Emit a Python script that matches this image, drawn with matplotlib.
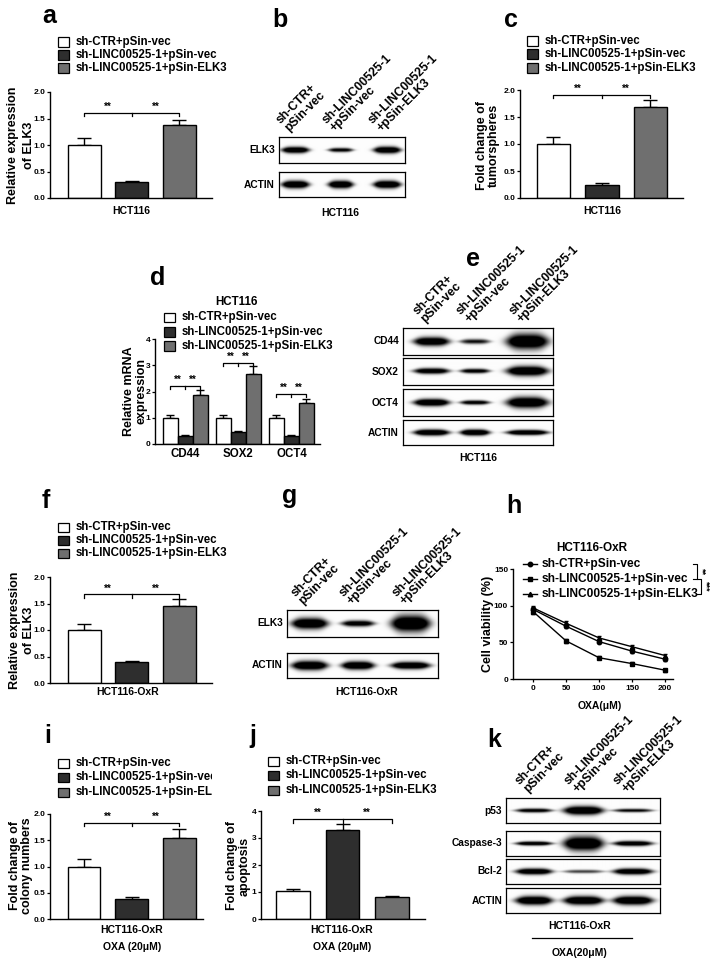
import numpy as np
import matplotlib
matplotlib.use('Agg')
import matplotlib.pyplot as plt
from matplotlib.patches import Rectangle
from matplotlib.lines import Line2D
from matplotlib.transforms import Bbox, TransformedBbox

plt.rcParams['font.family'] = ['Liberation Sans', 'DejaVu Sans']
plt.rcParams['font.weight'] = 'bold'
plt.rcParams['axes.linewidth'] = 1.0

# ---------------- data ----------------
groups = ['sh-CTR+pSin-vec', 'sh-LINC00525-1+pSin-vec', 'sh-LINC00525-1+pSin-ELK3']
lane_labels = ['sh-CTR+\npSin-vec', 'sh-LINC00525-1\n+pSin-vec', 'sh-LINC00525-1\n+pSin-ELK3']
bar_colors = ['white', '#2e2e2e', '#6f6f6f']

a_vals = [1.00, 0.30, 1.38]; a_err = [0.14, 0.02, 0.10]
c_vals = [1.00, 0.25, 1.68]; c_err = [0.13, 0.02, 0.14]
f_vals = [1.00, 0.39, 1.45]; f_err = [0.12, 0.02, 0.13]
i_vals = [1.00, 0.38, 1.55]; i_err = [0.15, 0.03, 0.17]
j_vals = [1.02, 3.28, 0.80]; j_err = [0.10, 0.25, 0.05]

d_genes = ['CD44', 'SOX2', 'OCT4']
d_ctr = [1.00, 1.00, 1.00]; d_ctr_err = [0.10, 0.10, 0.10]
d_kd = [0.30, 0.45, 0.32]; d_kd_err = [0.03, 0.03, 0.03]
d_elk = [1.88, 2.68, 1.55]; d_elk_err = [0.18, 0.30, 0.15]
d_sig_y = [2.2, 3.1, 1.9]

h_dose = [0, 50, 100, 150, 200]
h_ctr = [95, 72, 51, 38, 27]
h_kd = [92, 52, 29, 21, 12]
h_elk = [97, 76, 56, 44, 32]
h_err = [3, 3, 2, 2, 2]

# western blot band intensities / thickness / half-width per row (lanes: CTR, KD, KD+ELK3)
b_rows = ['ELK3', 'ACTIN']
b_int = [[0.95, 0.75, 0.95], [1.0, 1.0, 1.0]]
b_thk = [[0.12, 0.08, 0.13], [0.15, 0.15, 0.15]]
b_hw = [0.11, 0.10, 0.11]
e_rows = ['CD44', 'SOX2', 'OCT4', 'ACTIN']
e_int = [[0.95, 0.65, 1.0], [0.9, 0.8, 1.0], [1.0, 0.8, 1.0], [1.0, 1.0, 1.0]]
e_thk = [[0.16, 0.09, 0.28], [0.10, 0.08, 0.17], [0.13, 0.08, 0.20], [0.12, 0.12, 0.10]]
e_hw = [0.12, 0.10, 0.14]
g_rows = ['ELK3', 'ACTIN']
g_int = [[1.0, 0.85, 1.0], [1.0, 1.0, 1.0]]
g_thk = [[0.20, 0.11, 0.30], [0.18, 0.16, 0.14]]
g_hw = [0.12, 0.11, 0.13]
k_rows = ['p53', 'Caspase-3', 'Bcl-2', 'ACTIN']
k_int = [[0.8, 1.0, 0.7], [0.9, 1.0, 0.9], [0.95, 0.5, 0.95], [1.0, 1.0, 1.0]]
k_thk = [[0.08, 0.17, 0.07], [0.08, 0.28, 0.10], [0.12, 0.07, 0.12], [0.17, 0.17, 0.17]]
k_hw = [0.12, 0.13, 0.13]

# ---------------- layout helpers ----------------
W, H = 717, 968
fig = plt.figure(figsize=(W / 100, H / 100), dpi=100)


def px_ax(x0, y0, x1, y1):
    return fig.add_axes([x0 / W, 1 - y1 / H, (x1 - x0) / W, (y1 - y0) / H])


def ftext(x, y, s, **kw):
    kw.setdefault('fontweight', 'bold')
    return fig.text(x / W, 1 - y / H, s, **kw)


def frect(x, y, w, h, fc):
    fig.add_artist(Rectangle((x / W, 1 - (y + h) / H), w / W, h / H,
                             transform=fig.transFigure, fc=fc, ec='black', lw=0.9))


def letter(x, y, s):
    ftext(x, y, s, fontsize=18, ha='left', va='baseline')


def ylab(x, y, s, ls=1.05, fs=9):
    ftext(x, y, s, rotation=90, ha='center', va='center', fontsize=fs,
          multialignment='center', linespacing=ls)


def bar_legend(x, ys, fs=8.3, clip_x=None):
    for k, (g, c) in enumerate(zip(groups, bar_colors)):
        frect(x, ys[k] - 4.5, 11, 9, c)
        t = ftext(x + 18, ys[k], g, fontsize=fs, va='center', ha='left')
        if clip_x is not None:
            t.set_clip_box(TransformedBbox(Bbox([[0, 0], [clip_x / W, 1]]), fig.transFigure))
            t.set_clip_on(True)


def style_axis(ax, fs=6):
    ax.spines['top'].set_visible(False)
    ax.spines['right'].set_visible(False)
    ax.tick_params(axis='y', length=2.5, width=0.9, labelsize=fs, pad=1)
    for lab in ax.get_yticklabels():
        lab.set_fontweight('bold')


def bracket(ax, x0, xm, x1, y, d, fs=7):
    ax.plot([x0, x0, x1, x1], [y - d, y, y, y - d], color='k', lw=0.9, clip_on=False)
    ax.plot([xm, xm], [y, y - d], color='k', lw=0.9, clip_on=False)
    for xc in [(x0 + xm) / 2, (xm + x1) / 2]:
        ax.text(xc, y + d * 0.3, '**', ha='center', va='bottom', fontsize=fs, fontweight='bold')


def bar_panel(box, vals, errs, xlim, ylim, yticks, fmt, sig_y, sig_d):
    ax = px_ax(*box)
    x = np.arange(len(vals))
    ax.errorbar(x, vals, yerr=[np.zeros(len(vals)), errs], fmt='none', ecolor='black',
                elinewidth=1.0, capsize=5, capthick=1.0, zorder=1)
    ax.bar(x, vals, width=0.69, color=bar_colors, edgecolor='black', linewidth=1.0, zorder=2)
    ax.set_xlim(*xlim)
    ax.set_ylim(*ylim)
    ax.set_yticks(yticks)
    ax.set_yticklabels([fmt % v for v in yticks])
    ax.set_xticks([])
    style_axis(ax)
    bracket(ax, 0, 1, 2, sig_y, sig_d)
    return ax


def band_image(nx, ny, lanes, intens, thick, halfw):
    xx = np.linspace(0, 1, nx)[None, :]
    yy = np.linspace(0, 1, ny)[:, None]
    dark = np.zeros((ny, nx))
    for cx, I, t, hw in zip(lanes, intens, thick, halfw):
        px = np.exp(-np.abs((xx - cx) / hw) ** 4)
        tt = t * (0.5 + 0.5 * px)
        py = np.exp(-((yy - 0.5) / np.maximum(tt, 1e-3)) ** 2)
        dark += I * px * py * 1.5
    return 0.99 - 0.99 * np.clip(dark, 0, 1)


def blot_panel(x0, x1, row_boxes, row_names, lanes, intens, thick, halfw,
               label_fs=7.3, hdr_fs=8.8, gap=4, hdr_dx=-4):
    for (y0, y1), name, I, T in zip(row_boxes, row_names, intens, thick):
        ax = px_ax(x0, y0, x1, y1)
        img = band_image(int((x1 - x0) * 3), int((y1 - y0) * 3), lanes, I, T, halfw)
        ax.imshow(img, cmap='gray', vmin=0, vmax=1, aspect='auto',
                  extent=[0, 1, 0, 1], interpolation='bilinear')
        ax.set_xticks([]); ax.set_yticks([])
        for s in ax.spines.values():
            s.set_linewidth(0.9)
        ftext(x0 - gap, (y0 + y1) / 2, name, ha='right', va='center', fontsize=label_fs)
    top = row_boxes[0][0]
    for fr, lab in zip(lanes, lane_labels):
        lx = x0 + fr * (x1 - x0)
        ftext(lx + hdr_dx, top - 3, lab, rotation=45, rotation_mode='anchor', ha='left',
              va='bottom', multialignment='left', fontsize=hdr_fs, linespacing=0.95)


# ---------------- panel a ----------------
letter(42, 23, 'a')
bar_legend(58, [42, 55, 68])
bar_panel((50, 92, 212, 198), a_vals, a_err, (-0.716, 2.684), (0, 2.0),
          [0, 0.5, 1.0, 1.5, 2.0], '%.1f', 1.6, 0.06)
ylab(21, 145, 'Relative expression\nof ELK3', ls=1.5)
ftext(131, 211, 'HCT116', ha='center', va='center', fontsize=7.5)

# ---------------- panel b ----------------
letter(272, 27, 'b')
blot_panel(279, 405, [(137, 163), (172, 197)], b_rows, [0.13, 0.49, 0.86], b_int, b_thk, b_hw)
ftext(340, 213, 'HCT116', ha='center', va='center', fontsize=7.5)

# ---------------- panel c ----------------
letter(504, 27, 'c')
bar_legend(527, [41, 54, 68])
bar_panel((520, 90, 683, 198), c_vals, c_err, (-0.69, 2.67), (0, 2.0),
          [0, 0.5, 1.0, 1.5, 2.0], '%.1f', 1.91, 0.06)
ylab(488, 145, 'Fold change of\ntumorspheres', ls=1.05)
ftext(602, 211, 'HCT116', ha='center', va='center', fontsize=7.5)

# ---------------- panel d ----------------
letter(150, 285, 'd')
ftext(236, 302, 'HCT116', ha='center', va='center', fontsize=8.3)
bar_legend(164, [317, 332, 346])
axd = px_ax(155, 339, 320, 444)
xg = np.arange(len(d_genes))
off = 0.283
for k, (vals, errs) in enumerate([(d_ctr, d_ctr_err), (d_kd, d_kd_err), (d_elk, d_elk_err)]):
    xs = xg + (k - 1) * off
    axd.errorbar(xs, vals, yerr=[np.zeros(3), errs], fmt='none', ecolor='black',
                 elinewidth=1.0, capsize=3, capthick=1.0, zorder=1)
    axd.bar(xs, vals, width=off, color=bar_colors[k], edgecolor='black', linewidth=1.0, zorder=2)
axd.set_xlim(-0.575, 2.54)
axd.set_ylim(0, 4)
axd.set_yticks([0, 1, 2, 3, 4])
axd.set_xticks(xg)
axd.set_xticklabels(d_genes, fontsize=8.3, fontweight='bold')
axd.tick_params(axis='x', length=0, pad=3)
style_axis(axd)
for gx, sy in zip(xg, d_sig_y):
    bracket(axd, gx - off, gx, gx + off, sy, 0.12, fs=7)
ylab(135, 391, 'Relative mRNA\nexpression', ls=1.05)

# ---------------- panel e ----------------
letter(466, 266, 'e')
blot_panel(403, 553, [(328, 355), (358, 385), (389, 416), (420, 445)], e_rows,
           [0.19, 0.48, 0.83], e_int, e_thk, e_hw)
ftext(478, 458, 'HCT116', ha='center', va='center', fontsize=7.5)

# ---------------- panel f ----------------
letter(42, 508, 'f')
bar_legend(58, [527, 540, 553])
bar_panel((50, 577, 212, 683), f_vals, f_err, (-0.716, 2.684), (0, 2.0),
          [0, 0.5, 1.0, 1.5, 2.0], '%.1f', 1.67, 0.06)
ylab(22, 630, 'Relative expression\nof ELK3', ls=1.2)
ftext(128, 692, 'HCT116-OxR', ha='center', va='center', fontsize=7.5)

# ---------------- panel g ----------------
letter(282, 503, 'g')
blot_panel(287, 438, [(610, 637), (653, 678)], g_rows, [0.15, 0.47, 0.82], g_int, g_thk, g_hw)
ftext(367, 692, 'HCT116-OxR', ha='center', va='center', fontsize=7.5)

# ---------------- panel h ----------------
letter(506, 513, 'h')
axh = px_ax(513, 569, 673, 679)
h_markers = ['o', 's', '^']
for vals, m in zip([h_ctr, h_kd, h_elk], h_markers):
    axh.errorbar(h_dose, vals, yerr=h_err, color='black', lw=1.0, marker=m, markersize=3.2,
                 capsize=1.5, elinewidth=0.8)
axh.set_xlim(-30.3, 212)
axh.set_ylim(0, 150)
axh.set_yticks([0, 50, 100, 150])
axh.set_xticks(h_dose)
axh.tick_params(axis='x', length=2.5, width=0.9, labelsize=6, pad=2)
for lab in axh.get_xticklabels():
    lab.set_fontweight('bold')
style_axis(axh)
ftext(592, 548, 'HCT116-OxR', ha='center', va='center', fontsize=8.5)
hy = [564, 579, 594]
for k, (g, m) in enumerate(zip(groups, h_markers)):
    yy = 1 - hy[k] / H
    fig.add_artist(Line2D([523 / W, 530 / W, 537 / W], [yy, yy, yy], transform=fig.transFigure,
                          color='k', lw=1.0, marker=m, markersize=3.2, markevery=[1]))
    ftext(542, hy[k], g, fontsize=8.6, ha='left', va='center')
for (ya, yb, xb, st) in [(564, 579, 697, '**'), (579, 594, 701, '***')]:
    fig.add_artist(Line2D([(xb - 4) / W, xb / W, xb / W, (xb - 4) / W],
                          [1 - ya / H, 1 - ya / H, 1 - yb / H, 1 - yb / H],
                          transform=fig.transFigure, color='k', lw=0.8))
    ftext(xb + 5, (ya + yb) / 2, st, rotation=-90, ha='center', va='center', fontsize=6.5)
ylab(488, 624, 'Cell viability (%)')
ftext(600, 706, 'OXA(\u03bcM)', ha='center', va='center', fontsize=7.5)

# ---------------- panel i ----------------
letter(44, 743, 'i')
bar_legend(58, [763, 777, 792], clip_x=212)
bar_panel((50, 814, 203, 919), i_vals, i_err, (-0.716, 2.5), (0, 2.0),
          [0, 0.5, 1.0, 1.5, 2.0], '%.1f', 1.83, 0.06)
ylab(21, 866, 'Fold change of\ncolony numbers', ls=1.05)
ftext(132, 930, 'HCT116-OxR', ha='center', va='center', fontsize=7.5)
ftext(132, 947, 'OXA (20\u03bcM)', ha='center', va='center', fontsize=7.5)

# ---------------- panel j ----------------
letter(249, 743, 'j')
bar_legend(268, [761, 775, 790])
bar_panel((261, 811, 425, 919), j_vals, j_err, (-0.66, 2.68), (0, 4),
          [0, 1, 2, 3, 4], '%d', 3.7, 0.15)
ylab(238, 866, 'Fold change of\napoptosis', ls=1.05)
ftext(342, 930, 'HCT116-OxR', ha='center', va='center', fontsize=7.5)
ftext(342, 947, 'OXA (20\u03bcM)', ha='center', va='center', fontsize=7.5)

# ---------------- panel k ----------------
letter(487, 747, 'k')
blot_panel(506, 660, [(798, 823), (831, 856), (859, 884), (888, 913)], k_rows,
           [0.18, 0.50, 0.82], k_int, k_thk, k_hw)
ftext(580, 926, 'HCT116-OxR', ha='center', va='center', fontsize=7.5)
fig.add_artist(Line2D([532 / W, 632 / W], [1 - 938 / H, 1 - 938 / H], transform=fig.transFigure,
                      color='k', lw=0.9))
ftext(580, 953, 'OXA(20\u03bcM)', ha='center', va='center', fontsize=7.5)

fig.savefig('out.png', dpi=100)
